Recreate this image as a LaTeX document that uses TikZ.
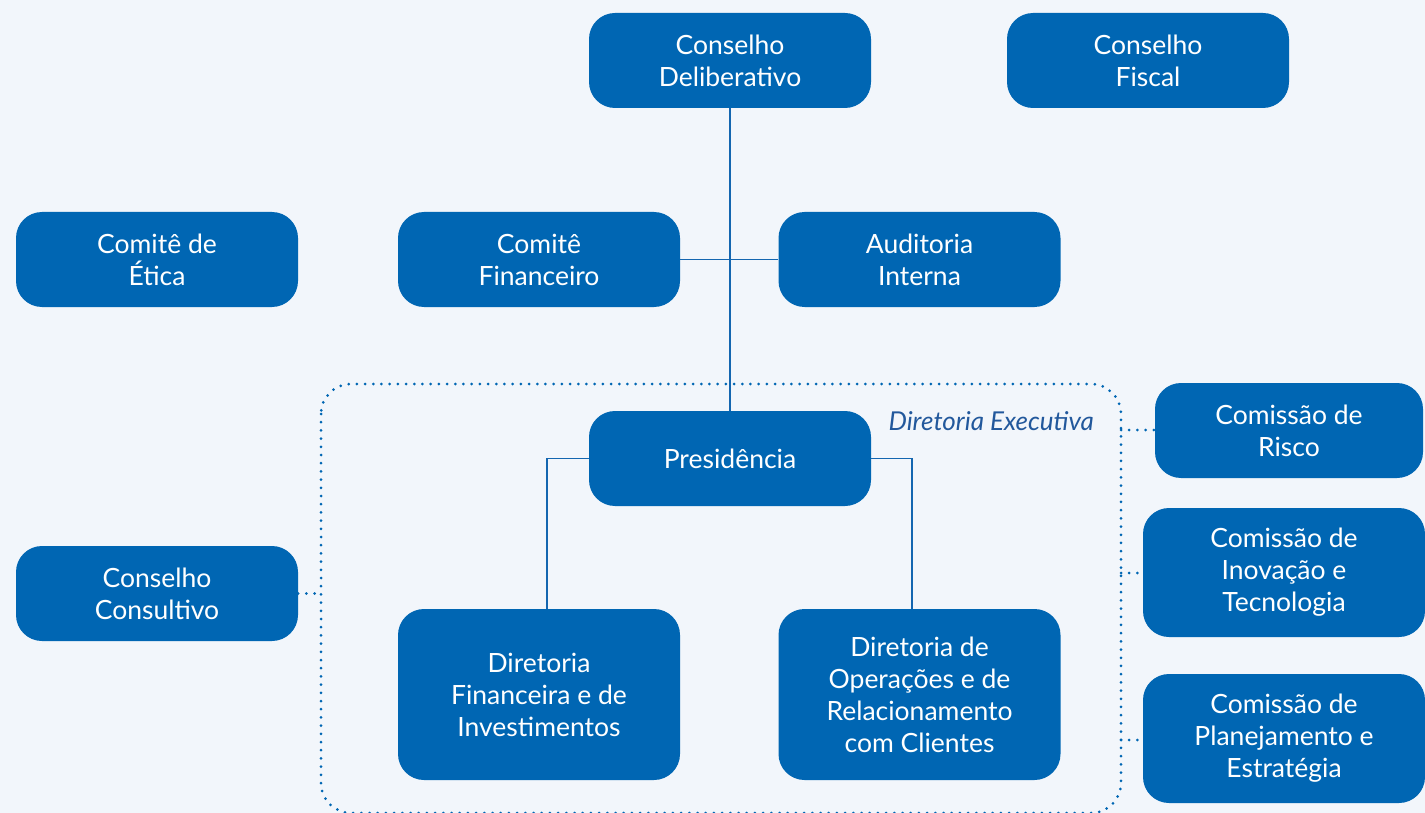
\documentclass[tikz,border=0pt]{standalone}
\usepackage{fontspec}
\setmainfont{Lato}
\definecolor{bg}{HTML}{F2F6FB}
\definecolor{boxblue}{HTML}{0066B3}
\definecolor{lineblue}{HTML}{1466B0}
\definecolor{labelblue}{HTML}{22589C}
\begin{document}
\begin{tikzpicture}[x=1pt,y=-1pt,
  orgbox/.style={rectangle, rounded corners=26pt, fill=boxblue, text=white,
    minimum width=282pt, minimum height=95pt, align=center,
    font=\fontsize{26.5}{32}\selectfont, inner sep=0pt},
  tall/.style={minimum height=129pt},
  taller/.style={minimum height=171pt},
  tree/.style={draw=lineblue, line width=1.3pt},
  dots/.style={draw=boxblue, line width=3pt, line cap=round, dash pattern=on 0pt off 8.2pt}]
\useasboundingbox (0,0) rectangle (1425,813);
\fill[bg] (0,0) rectangle (1425,813);

% dotted frame
\draw[dots, rounded corners=30pt] (321,384) rectangle (1121,813);
\coordinate (fl) at (321,593.5);
\coordinate (fr1) at (1121,430);
\coordinate (fr2) at (1121,573);
\coordinate (fr3) at (1121,740);

\node[orgbox] (delib) at (730,60.5) {Conselho\\Deliberativo};
\node[orgbox] (fiscal) at (1148,60.5) {Conselho\\Fiscal};
\node[orgbox] (etica) at (157,259.5) {Comitê de\\Ética};
\node[orgbox] (fin) at (539,259.5) {Comitê\\Financeiro};
\node[orgbox] (aud) at (919.5,259.5) {Auditoria\\Interna};
\node[orgbox] (pres) at (730,458.5) {Presidência};
\node[orgbox, minimum width=268pt] (risco) at (1289,430.5) {Comissão de\\Risco};
\node[orgbox, tall] (inov) at (1284,572.5) {Comissão de\\Inovação e\\Tecnologia};
\node[orgbox, tall] (plan) at (1284,738.5) {Comissão de\\Planejamento e\\Estratégia};
\node[orgbox] (consult) at (157,593.5) {Conselho\\Consultivo};
\node[orgbox, taller] (dfin) at (539,694.5) {Diretoria\\Financeira e de\\Investimentos};
\node[orgbox, taller] (dops) at (919.5,694.5) {Diretoria de\\Operações e de\\Relacionamento\\com Clientes};

\node[anchor=east, text=labelblue, font=\fontsize{26}{30}\selectfont\itshape, inner sep=0pt] (dirlabel) at (1094,421) {Diretoria Executiva};

% tree connectors
\draw[tree] (delib.south) -- (pres.north);
\draw[tree] (fin.east) -- (aud.west);
\draw[tree] (pres.west) -| (dfin.north -| 547,0);
\draw[tree] (pres.east) -| (dops.north -| 912,0);

% dotted connectors
\draw[dots] (consult.east) -- (fl);
\draw[dots] (fr1) -- (risco.west |- fr1);
\draw[dots] (fr2) -- (inov.west |- fr2);
\draw[dots] (fr3) -- (plan.west |- fr3);
\end{tikzpicture}
\end{document}
